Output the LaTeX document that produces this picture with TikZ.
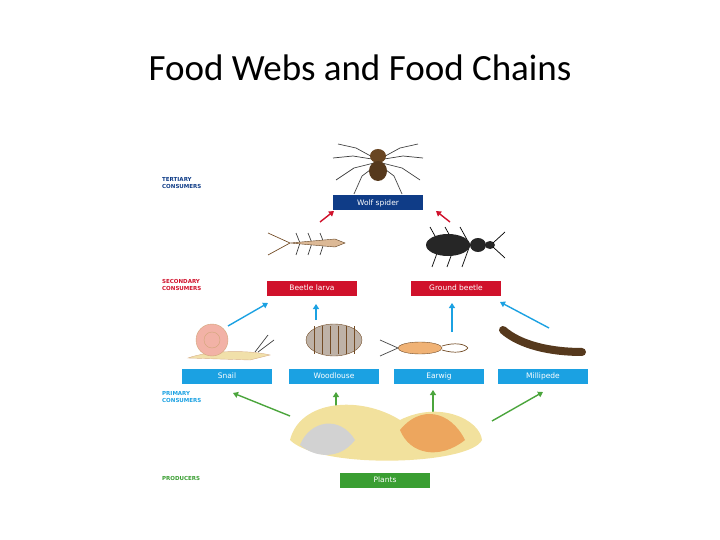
\documentclass[tikz,border=0pt]{standalone}
\usepackage{fontspec}
\setmainfont{Carlito}
\newfontfamily\lab{DejaVu Sans}
\usetikzlibrary{arrows.meta}
\definecolor{tert}{HTML}{0F3C87}
\definecolor{sec}{HTML}{D0112B}
\definecolor{prim}{HTML}{1BA1E2}
\definecolor{prod}{HTML}{3A9E32}
\definecolor{parr}{HTML}{4BA53C}
\tikzset{
 box/.style={fill=#1,text=white,minimum width=90pt,minimum height=15pt,inner sep=0pt,font=\lab\fontsize{7.5}{8}\selectfont},
 lvl/.style={text=#1,align=left,anchor=west,font=\lab\bfseries\fontsize{5.5}{6.5}\selectfont,inner sep=0pt},
 arr/.style={draw=#1,line width=1.4pt,-{Triangle[length=5pt,width=6pt]}},
 leg/.style={draw=black!75,line width=0.7pt},
}
\begin{document}
\begin{tikzpicture}[x=1pt,y=-1pt]
\useasboundingbox (0,0) rectangle (720,540);
\node (title) at (360,68) {\fontsize{37}{40}\selectfont Food Webs and Food Chains};
% level labels
\node[lvl=tert] (lt) at (162,183) {TERTIARY\\CONSUMERS};
\node[lvl=sec] (ls) at (162,285) {SECONDARY\\CONSUMERS};
\node[lvl=prim] (lp) at (162,397) {PRIMARY\\CONSUMERS};
\node[lvl=prod] (lpr) at (162,478) {PRODUCERS};
% boxes
\node[box=tert] (spider) at (378,203) {Wolf spider};
\node[box=sec] (larva) at (312,288) {Beetle larva};
\node[box=sec] (gbeetle) at (456,288) {Ground beetle};
\node[box=prim] (snail) at (227,376) {Snail};
\node[box=prim] (wood) at (334,376) {Woodlouse};
\node[box=prim] (earwig) at (439,376) {Earwig};
\node[box=prim] (milli) at (543,376) {Millipede};
\node[box=prod] (plants) at (385,480) {Plants};
% arrows
\coordinate (r1) at (320,222); \coordinate (r2) at (450,222);
\draw[arr=sec] (r1) -- (334,211);
\draw[arr=sec] (r2) -- (436,211);
\coordinate (b1) at (228,326); \coordinate (b2) at (316,320);
\coordinate (b3) at (452,332); \coordinate (b4) at (549,328);
\draw[arr=prim] (b1) -- (268,303);
\draw[arr=prim] (b2) -- (316,304);
\draw[arr=prim] (b3) -- (452,303);
\draw[arr=prim] (b4) -- (500,302);
\coordinate (g1) at (290,416); \coordinate (g2) at (336,412);
\coordinate (g3) at (433,418); \coordinate (g4) at (492,421);
\draw[arr=parr] (g1) -- (233,393);
\draw[arr=parr] (g2) -- (336,392);
\draw[arr=parr] (g3) -- (433,390);
\draw[arr=parr] (g4) -- (543,392);
% spider
\foreach \s in {1,-1}{
 \draw[leg] (378,160) -- ++(\s*22,-12) -- ++(\s*18,-4);
 \draw[leg] (378,160) -- ++(\s*25,-4) -- ++(\s*20,2);
 \draw[leg] (378,162) -- ++(\s*24,6) -- ++(\s*18,12);
 \draw[leg] (378,164) -- ++(\s*16,12) -- ++(\s*8,18);}
\fill[brown!55!black] (378,156) ellipse (8 and 7);
\fill[brown!45!black] (378,171) ellipse (9 and 10);
% beetle larva
\foreach \x in {300,312,324}{\draw[leg] (\x,243) -- ++(-4,-10) (\x,243) -- ++(-4,12);}
\fill[brown!55!white,draw=brown!50!black] (290,243) -- (335,239) -- (345,243) -- (335,247) -- cycle;
\draw[leg,brown!60!black] (290,243) -- (268,233) (290,243) -- (268,255);
% ground beetle
\foreach \x in {440,455,470}{\draw[leg,black] (\x,245) -- ++(-10,-18) (\x,245) -- ++(-8,22);}
\fill[black!85] (448,245) ellipse (22 and 11);
\fill[black!85] (478,245) ellipse (8 and 7);
\fill[black!85] (490,245) ellipse (5 and 4);
\draw[leg,black] (493,243) -- (505,232) (493,247) -- (505,258);
% snail
\fill[yellow!40!brown!40,draw=brown!60] (188,358) .. controls (210,350) and (250,350) .. (270,355) -- (250,360) -- cycle;
\draw[fill=brown!20!pink,draw=brown!70] (212,340) circle (16);
\draw[brown!70] (212,340) circle (8);
\draw[leg] (255,352) -- (268,335) (258,352) -- (274,340);
% woodlouse
\fill[brown!30!gray!60,draw=brown!60!black] (334,340) ellipse (28 and 16);
\foreach \x in {314,322,330,338,346,354}{\draw[brown!60!black] (\x,326) -- (\x,354);}
% earwig
\fill[brown!40!orange!60,draw=brown!60!black] (420,348) ellipse (22 and 6);
\draw[leg,brown!60!black] (442,346) .. controls (455,342) and (465,344) .. (468,348) (442,350) .. controls (455,354) and (465,352) .. (468,348);
\draw[leg] (398,348) -- (380,340) (398,348) -- (380,356);
% millipede
\draw[line width=8pt,brown!45!black,line cap=round] (503,330) .. controls (520,345) and (550,352) .. (582,352);
% leaves
\fill[yellow!50!brown!45] (290,440) .. controls (300,400) and (360,395) .. (400,420) .. controls (440,400) and (480,420) .. (482,440) .. controls (470,465) and (320,470) .. cycle;
\fill[orange!60!brown!70] (400,430) .. controls (420,405) and (450,410) .. (465,440) .. controls (440,460) and (410,455) .. cycle;
\fill[gray!35] (300,445) .. controls (310,420) and (340,415) .. (355,440) .. controls (340,460) and (315,458) .. cycle;
\end{tikzpicture}
\end{document}
